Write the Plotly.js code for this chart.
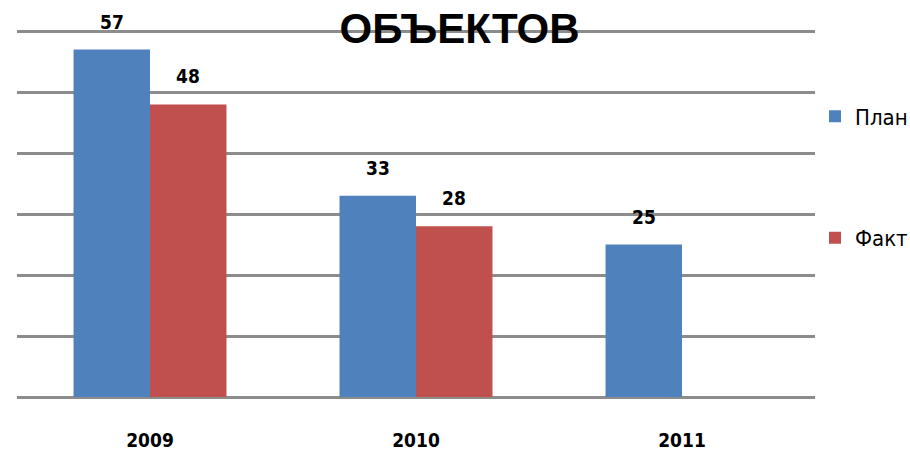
<!DOCTYPE html>
<html>
<head>
<meta charset="utf-8">
<script src="https://cdn.plot.ly/plotly-3.0.1.min.js"></script>
<style>
  body { margin: 0; background: #fff; }
  #graph { width: 910px; height: 452px; }
</style>
</head>
<body>
<div id="graph"></div>
<script>
// data
const years = ["2009", "2010", "2011"];
const plan = [57, 33, 25];
const fakt = [48, 28, null];
const seriesNames = ["План", "Факт"];
const seriesColors = ["#4F81BD", "#C0504D"];

const narrow = "Liberation Sans Narrow, DejaVu Sans Condensed, Arial Narrow, sans-serif";
const bargap = 0.425;
const barW = (1 - bargap) / 2;

// ---------- TRACES ----------
const series = [plan, fakt];
const traces = series.map((vals, s) => ({
  type: "bar",
  name: seriesNames[s],
  x: years,
  y: vals,
  legendgroup: "g" + s,
  marker: { color: seriesColors[s] },
  hoverinfo: "x+y+name"
}));

// ---------- VALUE LABELS ----------
let annotations = [];
series.forEach((vals, s) => {
  vals.forEach((v, i) => {
    if (v === null) return;
    annotations.push({
      x: i + (s - 0.5) * barW,
      y: v,
      xref: "x",
      yref: "y",
      text: String(v),
      showarrow: false,
      yanchor: "bottom",
      yshift: 15,
      font: { family: narrow, size: 19, color: "#000", weight: "bold" }
    });
  });
});

const layout = {
  width: 910,
  height: 452,
  margin: { l: 17, r: 92, t: 30, b: 55 },
  paper_bgcolor: "#fff",
  plot_bgcolor: "#fff",
  barmode: "group",
  bargap: bargap,
  bargroupgap: 0,
  title: {
    text: "<b>ОБЪЕКТОВ</b>",
    x: 0.505,
    xref: "container",
    xanchor: "center",
    y: 1 - 28 / 452,
    yanchor: "middle",
    font: { family: "Liberation Sans, Arial, sans-serif", size: 42, color: "#000" }
  },
  xaxis: {
    type: "category",
    showgrid: false,
    zeroline: false,
    showline: false,
    ticks: "",
    ticklabelstandoff: 30,
    tickfont: { family: narrow, size: 19, color: "#000", weight: "bold" }
  },
  yaxis: {
    range: [0, 60.2],
    dtick: 10,
    showticklabels: false,
    ticks: "",
    showgrid: true,
    gridcolor: "#8c8c8c",
    gridwidth: 3,
    zeroline: true,
    zerolinecolor: "#8c8c8c",
    zerolinewidth: 3,
    showline: false
  },
  showlegend: true,
  legend: {
    xref: "container",
    x: 815 / 910,
    xanchor: "left",
    y: 0.822,
    yanchor: "top",
    traceorder: "grouped",
    tracegroupgap: 90,
    itemwidth: 30,
    font: { family: narrow, size: 22, color: "#000" },
    bgcolor: "rgba(0,0,0,0)"
  },
  annotations: annotations
};

Plotly.newPlot("graph", traces, layout, { displayModeBar: false, staticPlot: true });
</script>
</body>
</html>
